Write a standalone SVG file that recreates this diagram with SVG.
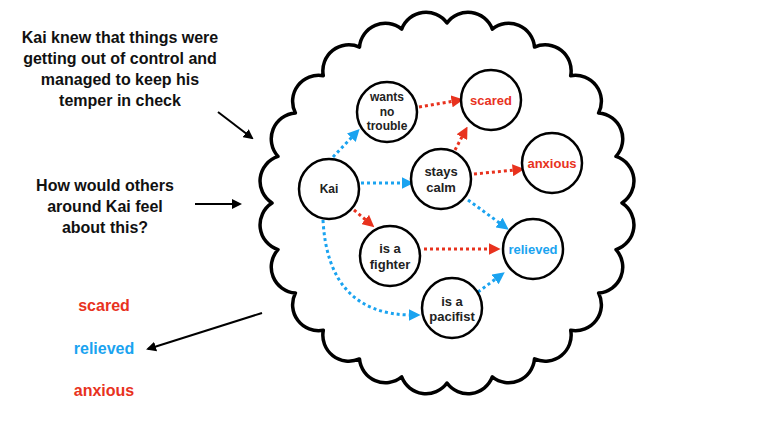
<svg xmlns="http://www.w3.org/2000/svg" width="781" height="439" viewBox="0 0 781 439">
<style>
text{font-family:"Liberation Sans",Arial,sans-serif;font-weight:bold;text-anchor:middle}
.n circle{fill:#fff;stroke:#000;stroke-width:2.5}
.n text{font-size:12px;fill:#222}
.lt{font-size:16px;fill:#111}
.r,.n text.r{fill:#e8321e}.b,.n text.b{fill:#1aa3f0}
.cr{stroke:#e8321e;stroke-width:3;stroke-dasharray:3 3;fill:none;marker-end:url(#ar)}
.cb{stroke:#1aa3f0;stroke-width:3;stroke-dasharray:3 3;fill:none;marker-end:url(#ab)}
.ck{stroke:#000;stroke-width:2;fill:none;marker-end:url(#ak)}
</style>
<defs>
<marker id="ar" viewBox="0 0 10 10" refX="2" refY="5" markerWidth="4" markerHeight="4" orient="auto" markerUnits="strokeWidth"><path d="M0,0L10,5L0,10z" fill="#e8321e"/></marker>
<marker id="ab" viewBox="0 0 10 10" refX="2" refY="5" markerWidth="4" markerHeight="4" orient="auto" markerUnits="strokeWidth"><path d="M0,0L10,5L0,10z" fill="#1aa3f0"/></marker>
<marker id="ak" viewBox="0 0 10 10" refX="8" refY="5" markerWidth="5" markerHeight="5" orient="auto" markerUnits="strokeWidth"><path d="M0,0L10,5L0,10z" fill="#000"/></marker>
</defs>
<rect width="781" height="439" fill="#fff"/>
<g id="cloud">
<path fill="#fff" stroke="#000" stroke-width="3.5" stroke-linejoin="round" d="M622,203 A26,26 0 0 1 616,249.6 A26,26 0 0 1 598.6,293 A26,26 0 0 1 570.7,330.3 A26,26 0 0 1 534.5,358.9 A26,26 0 0 1 492.3,376.9 A26,26 0 0 1 447,383 A26,26 0 0 1 401.7,376.9 A26,26 0 0 1 359.5,358.9 A26,26 0 0 1 323.3,330.3 A26,26 0 0 1 295.4,293 A26,26 0 0 1 278,249.6 A26,26 0 0 1 272,203 A26,26 0 0 1 278,156.4 A26,26 0 0 1 295.4,113 A26,26 0 0 1 323.3,75.7 A26,26 0 0 1 359.5,47.1 A26,26 0 0 1 401.7,29.1 A26,26 0 0 1 447,23 A26,26 0 0 1 492.3,29.1 A26,26 0 0 1 534.5,47.1 A26,26 0 0 1 570.7,75.7 A26,26 0 0 1 598.6,113 A26,26 0 0 1 616,156.4 A26,26 0 0 1 622,203 Z"/>
</g>
<g id="labels">
<text class="lt" x="120" y="43">Kai knew that things were</text>
<text class="lt" x="120" y="64">getting out of control and</text>
<text class="lt" x="120" y="85">managed to keep his</text>
<text class="lt" x="120" y="106">temper in check</text>
<text class="lt" x="105" y="191">How would others</text>
<text class="lt" x="105" y="212">around Kai feel</text>
<text class="lt" x="105" y="233">about this?</text>
<text class="lt r" x="104" y="311">scared</text>
<text class="lt b" x="104" y="354">relieved</text>
<text class="lt r" x="104" y="396">anxious</text>
</g>
<g id="connectors">
<path class="ck" d="M218,112L252,138"/>
<path class="ck" d="M195,204L240,204"/>
<path class="ck" d="M262,313L148,349"/>
<path class="cb" d="M333,157L353,136"/>
<path class="cr" d="M419,107L454,101"/>
<path class="cb" d="M361,183L404,183"/>
<path class="cr" d="M354,210L367,221"/>
<path class="cr" d="M455,150L463,135"/>
<path class="cr" d="M474,174L515,170"/>
<path class="cb" d="M468,200L501,224"/>
<path class="cr" d="M424,249L491,249"/>
<path class="cb" d="M478,292L497,278"/>
<path class="cb" d="M323,220Q328,314 411,315"/>
</g>
<g id="n-wants" class="n"><circle cx="387" cy="112" r="30"/><text x="387" y="101">wants</text><text x="387" y="116">no</text><text x="387" y="130">trouble</text></g>
<g id="n-scared" class="n"><circle cx="491" cy="100" r="30"/><text class="r" x="491" y="105" style="font-size:13px">scared</text></g>
<g id="n-anxious" class="n"><circle cx="552" cy="163" r="30"/><text class="r" x="552" y="168" style="font-size:13px">anxious</text></g>
<g id="n-kai" class="n"><circle cx="329" cy="189" r="30"/><text x="329" y="193">Kai</text></g>
<g id="n-calm" class="n"><circle cx="441" cy="179" r="30"/><text x="441" y="176" style="font-size:13px">stays</text><text x="441" y="192" style="font-size:13px">calm</text></g>
<g id="n-fighter" class="n"><circle cx="390" cy="256" r="30"/><text x="390" y="253" style="font-size:13px">is a</text><text x="390" y="269" style="font-size:13px">fighter</text></g>
<g id="n-relieved" class="n"><circle cx="533" cy="249" r="30"/><text class="b" x="533" y="254" style="font-size:13px">relieved</text></g>
<g id="n-pacifist" class="n"><circle cx="452" cy="308" r="30"/><text x="452" y="306" style="font-size:13px">is a</text><text x="452" y="321" style="font-size:13px">pacifist</text></g>
</svg>
